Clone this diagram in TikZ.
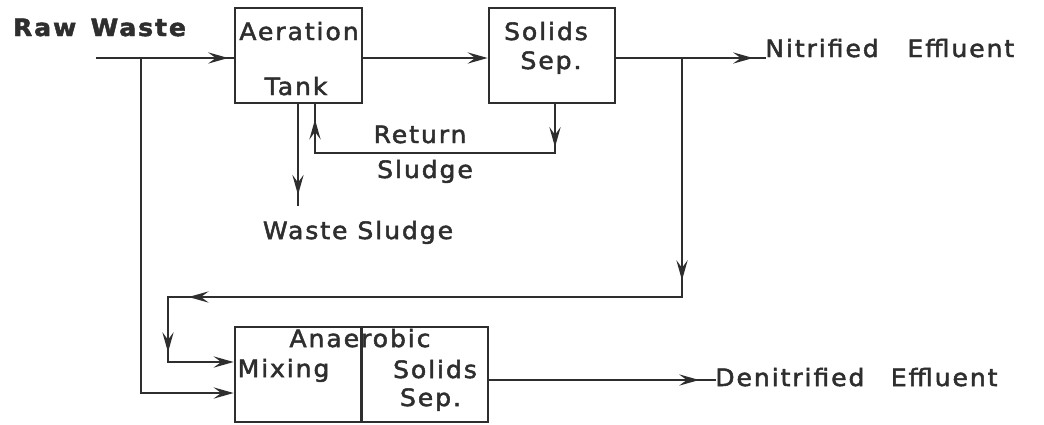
\documentclass[tikz,border=0pt]{standalone}
\usepackage{fontspec}
\setmainfont{DejaVu Sans}
\newfontfamily\lettering[FakeStretch=1.05,LetterSpace=8,FakeBold=2]{DejaVu Sans}
\usepackage{xcolor}
\definecolor{ink}{HTML}{2E2E2E}
\usepackage{tikz}
\usetikzlibrary{arrows.meta,positioning,decorations.markings}

\begin{document}
\begin{tikzpicture}[
  x=0.025cm, y=-0.025cm,
  font=\lettering\fontsize{17}{20}\selectfont,
  box/.style={rectangle, draw=ink, line width=1.9pt, inner sep=0pt, minimum height=2.375cm},
  lab/.style={inner sep=0pt, text=ink, anchor=base},
  ln/.style={draw=ink, line width=1.6pt, line cap=rect},
  a/.style={ln, -{Stealth[length=5mm, width=2.8mm, inset=1.9mm]}},
  mid/.style={ln, postaction={decorate}, decoration={markings, mark=at position #1 with {\arrow[ink]{Stealth[length=5mm, width=2.8mm, inset=1.9mm]}}}},
]
\useasboundingbox[fill=white] (0,0) rectangle (1044,424);
% ---------------- process units
\node[box, minimum width=3.175cm] (aer) at (298.5,55.5) {};
\node[box, minimum width=3.15cm] (sep) at (552,55.5) {};
\node[box, minimum width=6.325cm] (ana) at (361.5,374.5) {};
\draw[ink, line width=1.9pt] (ana.north) -- (ana.south);
% ---------------- labels
\node[lab, font=\lettering\bfseries\fontsize{17}{20}\selectfont] (raw) at (99.5,36) {Raw\hspace{0.6em}Waste};
\node[lab] (aer1) at (299,40) {Aeration};
\node[lab] (aer2) at (296,95) {Tank};
\node[lab] (sep1) at (546,40) {Solids};
\node[lab] (sep2) at (551,69) {Sep.};
\node[lab] (ret1) at (420,143) {Return};
\node[lab] (ret2) at (425,178) {Sludge};
\node[lab] (wsl) at (358,239) {Waste Sludge};
\node[lab, anchor=base west] (nit) at (765,57) {Nitrified\hspace{1.2em}Effluent};
\node[lab, anchor=base west] (den) at (715,386) {Denitrified\hspace{1.1em}Effluent};
\node[lab] (ana1) at (360,347) {Anaerobic};
\node[lab] (ana2) at (283.5,377) {Mixing};
\node[lab] (ana3) at (435,378) {Solids};
\node[lab] (ana4) at (430.5,406) {Sep.};
% ---------------- main line
\coordinate (rw) at (97,58);
\draw[mid=0.96] (rw) -- (rw -| aer.west);
\draw[a] (aer.east |- rw) -- (sep.west |- rw);
\draw[mid=0.92] (sep.east |- rw) -- (rw -| nit.west);
% ---------------- return and waste sludge
\coordinate (rs1) at (555,153);
\coordinate (rs2) at (315,153);
\coordinate (ws) at (298,205);
\draw[mid=0.88] (sep.south -| rs1) -- (rs1);
\draw[ln] (rs1) -- (rs2);
\draw[mid=0.69] (rs2) -- (aer.south -| rs2);
\draw[mid=0.9] (aer.south -| ws) -- (ws);
% ---------------- nitrified recycle and raw waste bypass
\coordinate (b1) at (682,58);
\coordinate (b2) at (682,297);
\coordinate (b3) at (168,297);
\coordinate (b4) at (168,362);
\draw[mid=0.93] (b1) -- (b2);
\draw[mid=0.96] (b2) -- (b3);
\draw[mid=0.85] (b3) -- (b4);
\draw[a] (b4) -- (b4 -| ana.west);
\coordinate (r1) at (141,58);
\coordinate (r2) at (141,393);
\draw[ln] (r1) -- (r2);
\draw[a] (r2) -- (r2 -| ana.west);
% ---------------- denitrified effluent
\draw[mid=0.93] (ana.east |- 0,380) -- (den.west |- 0,380);
\end{tikzpicture}
\end{document}
